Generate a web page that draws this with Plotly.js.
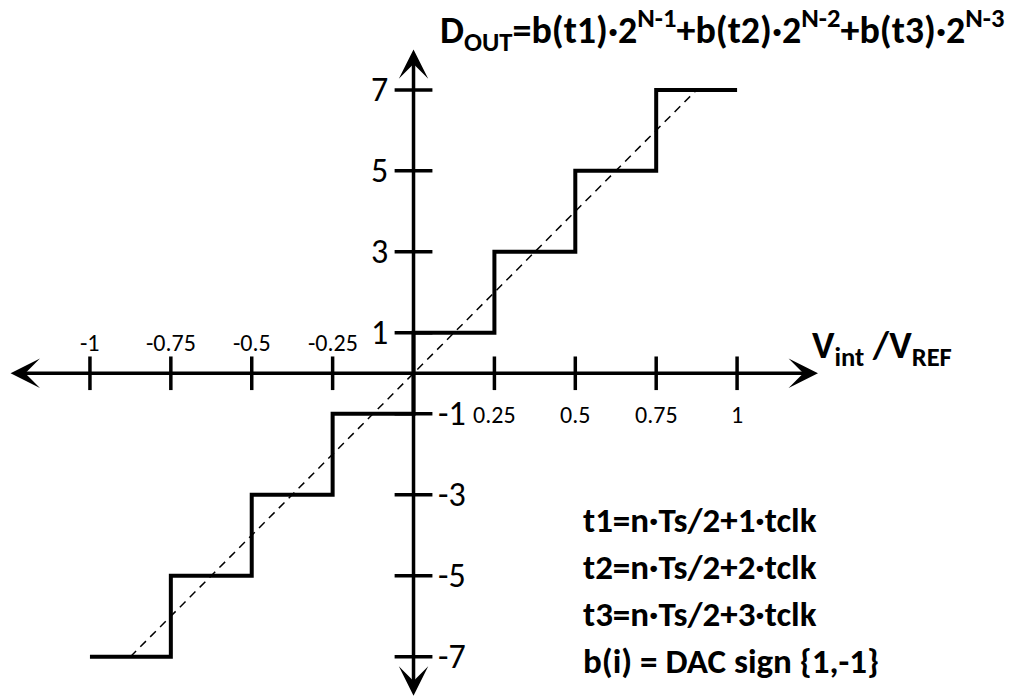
<!DOCTYPE html>
<html>
<head>
<meta charset="utf-8">
<script src="https://cdn.plot.ly/plotly-3.0.1.min.js"></script>
<style>html,body{margin:0;padding:0;background:#fff;}#chart{width:1027px;height:700px;}</style>
</head>
<body>
<div id="chart"></div>
<script>
// ---- data ----
var stepX = [-1, -0.75, -0.5, -0.25, 0, 0.25, 0.5, 0.75, 1];
var stepY = [-7, -5, -3, -1, 1, 3, 5, 7, 7];
var idealX = [-0.875, 0.875];
var idealY = [-7, 7];
var xTickVals = [-1, -0.75, -0.5, -0.25, 0.25, 0.5, 0.75, 1];
var xTickText = ['-1', '-0.75', '-0.5', '-0.25', '0.25', '0.5', '0.75', '1'];
var yTickVals = [7, 5, 3, 1, -1, -3, -5, -7];
var yTickText = ['7', '5', '3', '1', '-1', '-3', '-5', '-7'];
var xAxisEnds = [-1.25, 1.25];
var yAxisEnds = [-8, 8];
var titleText = '<b>D<sub>OUT</sub>=b(t1)·2<sup>N-1</sup>+b(t2)·2<sup>N-2</sup>+b(t3)·2<sup>N-3</sup></b>';
var xLabelText = '<b>V<sub>int</sub> /V<sub>REF</sub></b>';
var noteLines = ['t1=n·Ts/2+1·tclk', 't2=n·Ts/2+2·tclk', 't3=n·Ts/2+3·tclk', 'b(i) = DAC sign {1,-1}'];

var FONT = 'Carlito, Lato, "Liberation Sans", sans-serif';
var W = 1027, H = 700;

var traces = [
  {x: idealX, y: idealY, mode: 'lines', line: {color: '#000', width: 1.5, dash: '8px,6px'}, hoverinfo: 'skip'},
  {x: stepX, y: stepY, mode: 'lines', line: {color: '#000', width: 4, shape: 'hv'}, hoverinfo: 'skip'},
  {x: xTickVals, y: xTickVals.map(function(){return 0;}), mode: 'markers',
   marker: {symbol: 'line-ns', size: 24, color: '#000', line: {color: '#000', width: 3.5}}, hoverinfo: 'skip'},
  {x: yTickVals.map(function(){return 0;}), y: yTickVals, mode: 'markers',
   marker: {symbol: 'line-ew', size: 27, color: '#000', line: {color: '#000', width: 3.5}}, hoverinfo: 'skip'}
];

var ann = [];
// axes with arrows
ann.push({x: xAxisEnds[1], y: 0, ax: xAxisEnds[0], ay: 0, xref: 'x', yref: 'y', axref: 'x', ayref: 'y',
  showarrow: true, arrowside: 'end+start', arrowhead: 3, arrowsize: 1.4, arrowwidth: 3.5, arrowcolor: '#000', text: '', standoff: 0, startstandoff: 0});
ann.push({x: 0, y: yAxisEnds[1], ax: 0, ay: yAxisEnds[0], xref: 'x', yref: 'y', axref: 'x', ayref: 'y',
  showarrow: true, arrowside: 'end+start', arrowhead: 3, arrowsize: 1.4, arrowwidth: 3.5, arrowcolor: '#000', text: '', standoff: 0, startstandoff: 0});
// x tick labels
xTickVals.forEach(function(v, i){
  ann.push({x: v, y: 0, xref: 'x', yref: 'y', text: xTickText[i], showarrow: false,
    xanchor: 'center', yanchor: 'middle', yshift: v < 0 ? 31 : -41,
    font: {family: FONT, size: 24, color: '#000'}});
});
// y tick labels
yTickVals.forEach(function(v, i){
  ann.push({x: 0, y: v, xref: 'x', yref: 'y', text: yTickText[i], showarrow: false,
    xanchor: v > 0 ? 'right' : 'left', yanchor: 'middle', xshift: v > 0 ? -24 : 22,
    font: {family: FONT, size: 34, color: '#000'}});
});
// title
ann.push({x: 1006 / W, y: 1 - 30 / H, xref: 'paper', yref: 'paper', text: titleText, showarrow: false,
  xanchor: 'right', yanchor: 'middle', font: {family: FONT, size: 38, color: '#000'}});
// x axis label
ann.push({x: 810 / W, y: 1 - 347 / H, xref: 'paper', yref: 'paper', text: xLabelText, showarrow: false,
  xanchor: 'left', yanchor: 'middle', font: {family: FONT, size: 38, color: '#000'}});
// notes
var noteY = [520, 567, 614, 661];
noteLines.forEach(function(t, i){
  ann.push({x: 581 / W, y: 1 - noteY[i] / H, xref: 'paper', yref: 'paper', text: '<b>' + t + '</b>', showarrow: false,
    xanchor: 'left', yanchor: 'middle', font: {family: FONT, size: 35, color: '#000'}});
});

var layout = {
  width: W, height: H,
  margin: {l: 0, r: 0, t: 0, b: 0},
  paper_bgcolor: '#fff', plot_bgcolor: '#fff',
  showlegend: false,
  xaxis: {range: [-1.278, 1.896], visible: false, fixedrange: true},
  yaxis: {range: [-8.07, 9.22], visible: false, fixedrange: true},
  annotations: ann
};

Plotly.newPlot('chart', traces, layout, {staticPlot: true});
</script>
</body>
</html>
